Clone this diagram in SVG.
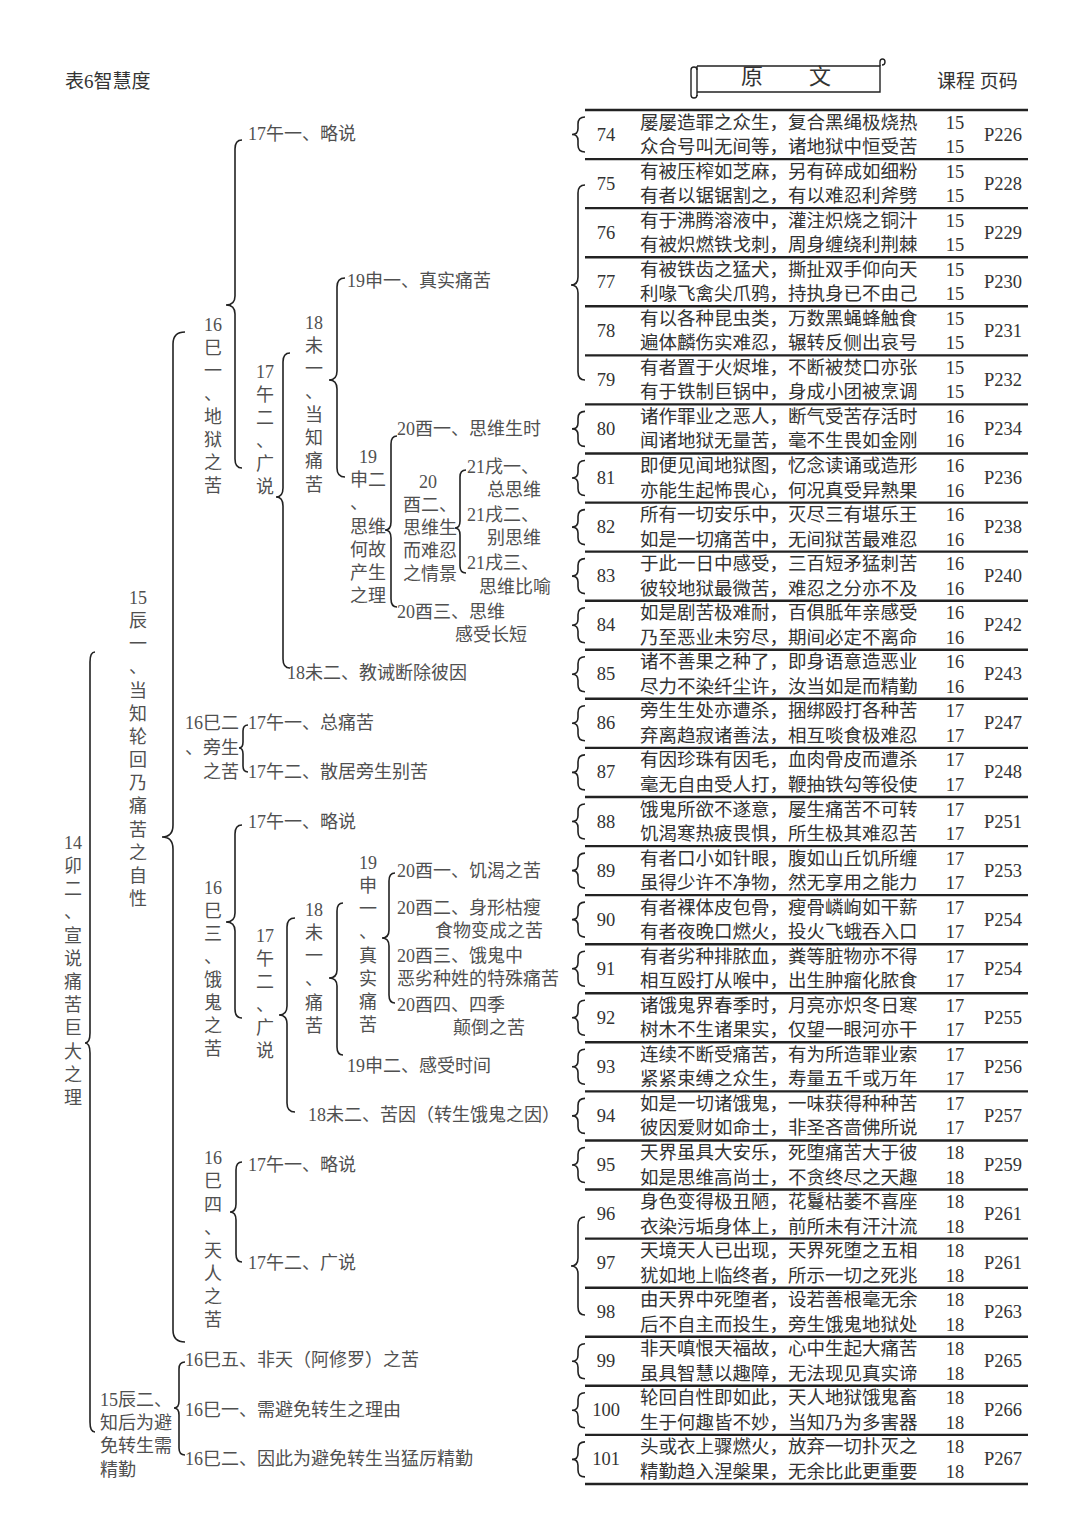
<svg xmlns="http://www.w3.org/2000/svg" xmlns:xlink="http://www.w3.org/1999/xlink" width="1080" height="1536" viewBox="0 0 1080 1536">
<style>
text{font-family:"Liberation Serif","Noto Sans CJK SC",serif;dominant-baseline:central}
.t{font-size:18px;fill:#505050}
.tv{font-size:18px;fill:#505050;text-anchor:middle}
.r{font-size:18.5px;fill:#333}
.rc{font-size:18.5px;fill:#333;text-anchor:middle}
.h{font-size:19px;fill:#333}
.br{fill:none;stroke:#222;stroke-width:1.6}
.rule{stroke:#222;stroke-width:2.4}
</style>
<defs>
<path id="sb" d="M13 0 Q6 0 6 7 L6 11.5 Q6 17.5 0 17.5 Q6 17.5 6 23.5 L6 28 Q6 35 13 35" fill="none" stroke="#222" stroke-width="1.6"/>
</defs>
<rect width="1080" height="1536" fill="#fff"/>

<g id="header">
<text class="h" x="65" y="81">表6智慧度</text>
<g id="scroll" fill="none" stroke="#222" stroke-width="1.4">
<path d="M697 66 L880 66 L880 92 L697 92"/>
<path d="M697 66 L697 96"/>
<path d="M691 70 Q691 67 694 67 Q697 67 697 70 M691 70 L691 95 Q691 98 694 98 Q697 98 697 95"/>
<path d="M880 66 L880 62 Q880 59 882.5 59 Q885 59 885 62 Q885 65 882 65"/>
</g>
<text x="752" y="76" font-size="22" fill="#333" text-anchor="middle">原</text>
<text x="820" y="76" font-size="22" fill="#333" text-anchor="middle">文</text>
<text class="h" x="937" y="81">课程 页码</text>
</g>

<g id="connectors">
<path class="br" d="M95 652 Q90 652 90 662 L90 1033 Q90 1043 85 1043 Q90 1043 90 1053 L90 1422 Q90 1432 95 1432"/>
<path class="br" d="M185 332 Q173 332 173 344 L173 825 Q173 837 162 837 Q173 837 173 849 L173 1330 Q173 1342 185 1342"/>
<path class="br" d="M242 140 Q235 140 235 149 L235 296 Q235 305 226 305 Q235 305 235 314 L235 459 Q235 468 242 468"/>
<path class="br" d="M290 353 Q283 353 283 362 L283 488 Q283 497 276 497 Q283 497 283 506 L283 659 Q283 668 290 668"/>
<path class="br" d="M345 278 Q337 278 337 287 L337 371 Q337 380 329 380 Q337 380 337 389 L337 468 Q337 477 345 477"/>
<path class="br" d="M397 436 Q391 436 391 444 L391 522 Q391 530 385 530 Q391 530 391 538 L391 599 Q391 607 397 607"/>
<path class="br" d="M466 470 Q460 470 460 477 L460 521 Q460 528 455 528 Q460 528 460 535 L460 566 Q460 573 466 573"/>
<path class="br" d="M248 725 Q243 725 243 731 L243 742 Q243 748 239 748 Q243 748 243 754 L243 766 Q243 772 248 772"/>
<path class="br" d="M242 825 Q235 825 235 834 L235 913 Q235 922 226 922 Q235 922 235 931 L235 1009 Q235 1018 242 1018"/>
<path class="br" d="M295 918 Q287 918 287 927 L287 1006 Q287 1015 279 1015 Q287 1015 287 1024 L287 1103 Q287 1112 295 1112"/>
<path class="br" d="M343 903 Q337 903 337 911 L337 970 Q337 978 329 978 Q337 978 337 986 L337 1047 Q337 1055 343 1055"/>
<path class="br" d="M395 873 Q389 873 389 881 L389 930 Q389 938 382 938 Q389 938 389 946 L389 995 Q389 1003 395 1003"/>
<path class="br" d="M242 1162 Q236 1162 236 1170 L236 1204 Q236 1212 230 1212 Q236 1212 236 1220 L236 1254 Q236 1262 242 1262"/>
<path class="br" d="M185 1362 Q179 1362 179 1369 L179 1401 Q179 1408 174 1408 Q179 1408 179 1415 L179 1448 Q179 1455 185 1455"/>
<path class="br" d="M585 185 Q578 185 578 193 L578 277 Q578 285 571 285 Q578 285 578 293 L578 372 Q578 380 585 380"/>
<path class="br" d="M585 1217 Q578 1217 578 1225 L578 1258 Q578 1266 571 1266 Q578 1266 578 1274 L578 1307 Q578 1315 585 1315"/>
<use xlink:href="#sb" x="572" y="117"/>
<use xlink:href="#sb" x="572" y="411.4"/>
<use xlink:href="#sb" x="572" y="460.5"/>
<use xlink:href="#sb" x="572" y="509.6"/>
<use xlink:href="#sb" x="572" y="558.6"/>
<use xlink:href="#sb" x="572" y="607.7"/>
<use xlink:href="#sb" x="572" y="656.8"/>
<use xlink:href="#sb" x="572" y="705.8"/>
<use xlink:href="#sb" x="572" y="754.9"/>
<use xlink:href="#sb" x="572" y="804"/>
<use xlink:href="#sb" x="572" y="853.1"/>
<use xlink:href="#sb" x="572" y="902.1"/>
<use xlink:href="#sb" x="572" y="951.2"/>
<use xlink:href="#sb" x="572" y="1000.3"/>
<use xlink:href="#sb" x="572" y="1049.3"/>
<use xlink:href="#sb" x="572" y="1098.4"/>
<use xlink:href="#sb" x="572" y="1147.5"/>
<use xlink:href="#sb" x="572" y="1343.8"/>
<use xlink:href="#sb" x="572" y="1392.8"/>
<use xlink:href="#sb" x="572" y="1441.9"/>
</g>

<g id="rules">
<line class="rule" x1="585" y1="110" x2="1028" y2="110"/>
<line class="rule" x1="585" y1="159.1" x2="1028" y2="159.1"/>
<line class="rule" x1="585" y1="208.1" x2="1028" y2="208.1"/>
<line class="rule" x1="585" y1="257.2" x2="1028" y2="257.2"/>
<line class="rule" x1="585" y1="306.3" x2="1028" y2="306.3"/>
<line class="rule" x1="585" y1="355.4" x2="1028" y2="355.4"/>
<line class="rule" x1="585" y1="404.4" x2="1028" y2="404.4"/>
<line class="rule" x1="585" y1="453.5" x2="1028" y2="453.5"/>
<line class="rule" x1="585" y1="502.6" x2="1028" y2="502.6"/>
<line class="rule" x1="585" y1="551.6" x2="1028" y2="551.6"/>
<line class="rule" x1="585" y1="600.7" x2="1028" y2="600.7"/>
<line class="rule" x1="585" y1="649.8" x2="1028" y2="649.8"/>
<line class="rule" x1="585" y1="698.8" x2="1028" y2="698.8"/>
<line class="rule" x1="585" y1="747.9" x2="1028" y2="747.9"/>
<line class="rule" x1="585" y1="797" x2="1028" y2="797"/>
<line class="rule" x1="585" y1="846.1" x2="1028" y2="846.1"/>
<line class="rule" x1="585" y1="895.1" x2="1028" y2="895.1"/>
<line class="rule" x1="585" y1="944.2" x2="1028" y2="944.2"/>
<line class="rule" x1="585" y1="993.3" x2="1028" y2="993.3"/>
<line class="rule" x1="585" y1="1042.3" x2="1028" y2="1042.3"/>
<line class="rule" x1="585" y1="1091.4" x2="1028" y2="1091.4"/>
<line class="rule" x1="585" y1="1140.5" x2="1028" y2="1140.5"/>
<line class="rule" x1="585" y1="1189.5" x2="1028" y2="1189.5"/>
<line class="rule" x1="585" y1="1238.6" x2="1028" y2="1238.6"/>
<line class="rule" x1="585" y1="1287.7" x2="1028" y2="1287.7"/>
<line class="rule" x1="585" y1="1336.8" x2="1028" y2="1336.8"/>
<line class="rule" x1="585" y1="1385.8" x2="1028" y2="1385.8"/>
<line class="rule" x1="585" y1="1434.9" x2="1028" y2="1434.9"/>
<line class="rule" x1="585" y1="1484" x2="1028" y2="1484"/>
</g>

<g id="tree">
<g id="n14"><text class="tv" x="73"><tspan x="73" y="843">14</tspan><tspan x="73" y="866">卯</tspan><tspan x="73" y="889">二</tspan><tspan x="73" y="912">、</tspan><tspan x="73" y="936">宣</tspan><tspan x="73" y="959">说</tspan><tspan x="73" y="982">痛</tspan><tspan x="73" y="1005">苦</tspan><tspan x="73" y="1028">巨</tspan><tspan x="73" y="1052">大</tspan><tspan x="73" y="1075">之</tspan><tspan x="73" y="1098">理</tspan></text></g>
<g id="n15a"><text class="tv" x="138"><tspan x="138" y="598">15</tspan><tspan x="138" y="621">辰</tspan><tspan x="138" y="644">一</tspan><tspan x="138" y="667">、</tspan><tspan x="138" y="691">当</tspan><tspan x="138" y="714">知</tspan><tspan x="138" y="737">轮</tspan><tspan x="138" y="760">回</tspan><tspan x="138" y="783">乃</tspan><tspan x="138" y="806">痛</tspan><tspan x="138" y="830">苦</tspan><tspan x="138" y="853">之</tspan><tspan x="138" y="876">自</tspan><tspan x="138" y="899">性</tspan></text></g>
<g id="n15b"><text class="t"><tspan x="100" y="1400">15辰二、</tspan><tspan x="100" y="1423">知后为避</tspan><tspan x="100" y="1446">免转生需</tspan><tspan x="100" y="1470">精勤</tspan></text></g>

<g id="n16a"><text class="tv" x="213"><tspan x="213" y="325">16</tspan><tspan x="213" y="348">巳</tspan><tspan x="213" y="371">一</tspan><tspan x="213" y="394">、</tspan><tspan x="213" y="417">地</tspan><tspan x="213" y="440">狱</tspan><tspan x="213" y="463">之</tspan><tspan x="213" y="486">苦</tspan></text></g>
<g id="n17a1"><text class="t" x="248" y="134">17午一、略说</text></g>
<g id="n17a2"><text class="tv" x="265"><tspan x="265" y="372">17</tspan><tspan x="265" y="395">午</tspan><tspan x="265" y="418">二</tspan><tspan x="265" y="441">、</tspan><tspan x="265" y="464">广</tspan><tspan x="265" y="487">说</tspan></text></g>
<g id="n18a1"><text class="tv" x="314"><tspan x="314" y="323">18</tspan><tspan x="314" y="346">未</tspan><tspan x="314" y="369">一</tspan><tspan x="314" y="392">、</tspan><tspan x="314" y="415">当</tspan><tspan x="314" y="438">知</tspan><tspan x="314" y="461">痛</tspan><tspan x="314" y="485">苦</tspan></text></g>
<g id="n19a1"><text class="t" x="347" y="281">19申一、真实痛苦</text></g>
<g id="n19a2"><text class="t"><tspan x="368" y="457" text-anchor="middle">19</tspan><tspan x="350" y="480">申二</tspan><tspan x="350" y="503">、</tspan><tspan x="350" y="527">思维</tspan><tspan x="350" y="550">何故</tspan><tspan x="350" y="573">产生</tspan><tspan x="350" y="596">之理</tspan></text></g>
<g id="n20a1"><text class="t" x="397" y="429">20酉一、思维生时</text></g>
<g id="n20a2"><text class="t"><tspan x="428" y="482" text-anchor="middle">20</tspan><tspan x="403" y="505">酉二、</tspan><tspan x="403" y="528">思维生</tspan><tspan x="403" y="551">而难忍</tspan><tspan x="403" y="574">之情景</tspan></text></g>
<g id="n21a1"><text class="t"><tspan x="467" y="467">21戌一、</tspan><tspan x="487" y="490">总思维</tspan></text></g>
<g id="n21a2"><text class="t"><tspan x="467" y="515">21戌二、</tspan><tspan x="487" y="538">别思维</tspan></text></g>
<g id="n21a3"><text class="t"><tspan x="467" y="563">21戌三、</tspan><tspan x="479" y="587">思维比喻</tspan></text></g>
<g id="n20a3"><text class="t"><tspan x="397" y="612">20酉三、思维</tspan><tspan x="455" y="635">感受长短</tspan></text></g>
<g id="n18a2"><text class="t" x="287" y="673">18未二、教诫断除彼因</text></g>

<g id="n16b"><text class="t"><tspan x="185" y="723">16巳二</tspan><tspan x="185" y="748">、旁生</tspan><tspan x="203" y="772">之苦</tspan></text></g>
<g id="n17b1"><text class="t" x="248" y="723">17午一、总痛苦</text></g>
<g id="n17b2"><text class="t" x="248" y="772">17午二、散居旁生别苦</text></g>

<g id="n16c"><text class="tv" x="213"><tspan x="213" y="888">16</tspan><tspan x="213" y="911">巳</tspan><tspan x="213" y="934">三</tspan><tspan x="213" y="957">、</tspan><tspan x="213" y="980">饿</tspan><tspan x="213" y="1003">鬼</tspan><tspan x="213" y="1026">之</tspan><tspan x="213" y="1049">苦</tspan></text></g>
<g id="n17c1"><text class="t" x="248" y="822">17午一、略说</text></g>
<g id="n17c2"><text class="tv" x="265"><tspan x="265" y="936">17</tspan><tspan x="265" y="959">午</tspan><tspan x="265" y="982">二</tspan><tspan x="265" y="1005">、</tspan><tspan x="265" y="1028">广</tspan><tspan x="265" y="1051">说</tspan></text></g>
<g id="n18c1"><text class="tv" x="314"><tspan x="314" y="910">18</tspan><tspan x="314" y="933">未</tspan><tspan x="314" y="956">一</tspan><tspan x="314" y="979">、</tspan><tspan x="314" y="1003">痛</tspan><tspan x="314" y="1026">苦</tspan></text></g>
<g id="n19c1"><text class="tv" x="368"><tspan x="368" y="863">19</tspan><tspan x="368" y="886">申</tspan><tspan x="368" y="909">一</tspan><tspan x="368" y="932">、</tspan><tspan x="368" y="956">真</tspan><tspan x="368" y="979">实</tspan><tspan x="368" y="1002">痛</tspan><tspan x="368" y="1025">苦</tspan></text></g>
<g id="n20c1"><text class="t" x="397" y="871">20酉一、饥渴之苦</text></g>
<g id="n20c2"><text class="t"><tspan x="397" y="908">20酉二、身形枯瘦</tspan><tspan x="435" y="931">食物变成之苦</tspan></text></g>
<g id="n20c3"><text class="t"><tspan x="397" y="956">20酉三、饿鬼中</tspan><tspan x="397" y="979">恶劣种姓的特殊痛苦</tspan></text></g>
<g id="n20c4"><text class="t"><tspan x="397" y="1005">20酉四、四季</tspan><tspan x="453" y="1028">颠倒之苦</tspan></text></g>
<g id="n19c2"><text class="t" x="347" y="1066">19申二、感受时间</text></g>
<g id="n18c2"><text class="t" x="308" y="1115">18未二、苦因（转生饿鬼之因）</text></g>

<g id="n16d"><text class="tv" x="213"><tspan x="213" y="1158">16</tspan><tspan x="213" y="1181">巳</tspan><tspan x="213" y="1205">四</tspan><tspan x="213" y="1228">、</tspan><tspan x="213" y="1251">天</tspan><tspan x="213" y="1274">人</tspan><tspan x="213" y="1297">之</tspan><tspan x="213" y="1320">苦</tspan></text></g>
<g id="n17d1"><text class="t" x="248" y="1165">17午一、略说</text></g>
<g id="n17d2"><text class="t" x="248" y="1263">17午二、广说</text></g>
<g id="n16e"><text class="t" x="185" y="1360">16巳五、非天（阿修罗）之苦</text></g>
<g id="n16f"><text class="t" x="185" y="1410">16巳一、需避免转生之理由</text></g>
<g id="n16g"><text class="t" x="185" y="1459">16巳二、因此为避免转生当猛厉精勤</text></g>
</g>

<g id="rows">
<g id="r74"><text class="rc" x="606" y="134.5">74</text><text class="r" x="640" y="122.5">屡屡造罪之众生，复合黑绳极烧热</text><text class="r" x="640" y="147">众合号叫无间等，诸地狱中恒受苦</text><text class="rc" x="955" y="122.5">15</text><text class="rc" x="955" y="147">15</text><text class="rc" x="1003" y="134.5">P226</text></g>
<g id="r75"><text class="rc" x="606" y="183.6">75</text><text class="r" x="640" y="171.6">有被压榨如芝麻，另有碎成如细粉</text><text class="r" x="640" y="196.1">有者以锯锯割之，有以难忍利斧劈</text><text class="rc" x="955" y="171.6">15</text><text class="rc" x="955" y="196.1">15</text><text class="rc" x="1003" y="183.6">P228</text></g>
<g id="r76"><text class="rc" x="606" y="232.6">76</text><text class="r" x="640" y="220.6">有于沸腾溶液中，灌注炽烧之铜汁</text><text class="r" x="640" y="245.1">有被炽燃铁戈刺，周身缠绕利荆棘</text><text class="rc" x="955" y="220.6">15</text><text class="rc" x="955" y="245.1">15</text><text class="rc" x="1003" y="232.6">P229</text></g>
<g id="r77"><text class="rc" x="606" y="281.7">77</text><text class="r" x="640" y="269.7">有被铁齿之猛犬，撕扯双手仰向天</text><text class="r" x="640" y="294.2">利喙飞禽尖爪鸦，持执身已不由己</text><text class="rc" x="955" y="269.7">15</text><text class="rc" x="955" y="294.2">15</text><text class="rc" x="1003" y="281.7">P230</text></g>
<g id="r78"><text class="rc" x="606" y="330.8">78</text><text class="r" x="640" y="318.8">有以各种昆虫类，万数黑蝇蜂触食</text><text class="r" x="640" y="343.3">遍体麟伤实难忍，辗转反侧出哀号</text><text class="rc" x="955" y="318.8">15</text><text class="rc" x="955" y="343.3">15</text><text class="rc" x="1003" y="330.8">P231</text></g>
<g id="r79"><text class="rc" x="606" y="379.9">79</text><text class="r" x="640" y="367.9">有者置于火烬堆，不断被焚口亦张</text><text class="r" x="640" y="392.4">有于铁制巨锅中，身成小团被烹调</text><text class="rc" x="955" y="367.9">15</text><text class="rc" x="955" y="392.4">15</text><text class="rc" x="1003" y="379.9">P232</text></g>
<g id="r80"><text class="rc" x="606" y="428.9">80</text><text class="r" x="640" y="416.9">诸作罪业之恶人，断气受苦存活时</text><text class="r" x="640" y="441.4">闻诸地狱无量苦，毫不生畏如金刚</text><text class="rc" x="955" y="416.9">16</text><text class="rc" x="955" y="441.4">16</text><text class="rc" x="1003" y="428.9">P234</text></g>
<g id="r81"><text class="rc" x="606" y="478">81</text><text class="r" x="640" y="466">即便见闻地狱图，忆念读诵或造形</text><text class="r" x="640" y="490.5">亦能生起怖畏心，何况真受异熟果</text><text class="rc" x="955" y="466">16</text><text class="rc" x="955" y="490.5">16</text><text class="rc" x="1003" y="478">P236</text></g>
<g id="r82"><text class="rc" x="606" y="527.1">82</text><text class="r" x="640" y="515.1">所有一切安乐中，灭尽三有堪乐王</text><text class="r" x="640" y="539.6">如是一切痛苦中，无间狱苦最难忍</text><text class="rc" x="955" y="515.1">16</text><text class="rc" x="955" y="539.6">16</text><text class="rc" x="1003" y="527.1">P238</text></g>
<g id="r83"><text class="rc" x="606" y="576.1">83</text><text class="r" x="640" y="564.1">于此一日中感受，三百短矛猛刺苦</text><text class="r" x="640" y="588.6">彼较地狱最微苦，难忍之分亦不及</text><text class="rc" x="955" y="564.1">16</text><text class="rc" x="955" y="588.6">16</text><text class="rc" x="1003" y="576.1">P240</text></g>
<g id="r84"><text class="rc" x="606" y="625.2">84</text><text class="r" x="640" y="613.2">如是剧苦极难耐，百俱胝年亲感受</text><text class="r" x="640" y="637.7">乃至恶业未穷尽，期间必定不离命</text><text class="rc" x="955" y="613.2">16</text><text class="rc" x="955" y="637.7">16</text><text class="rc" x="1003" y="625.2">P242</text></g>
<g id="r85"><text class="rc" x="606" y="674.3">85</text><text class="r" x="640" y="662.3">诸不善果之种了，即身语意造恶业</text><text class="r" x="640" y="686.8">尽力不染纤尘许，汝当如是而精勤</text><text class="rc" x="955" y="662.3">16</text><text class="rc" x="955" y="686.8">16</text><text class="rc" x="1003" y="674.3">P243</text></g>
<g id="r86"><text class="rc" x="606" y="723.3">86</text><text class="r" x="640" y="711.3">旁生生处亦遭杀，捆绑殴打各种苦</text><text class="r" x="640" y="735.8">弃离趋寂诸善法，相互啖食极难忍</text><text class="rc" x="955" y="711.3">17</text><text class="rc" x="955" y="735.8">17</text><text class="rc" x="1003" y="723.3">P247</text></g>
<g id="r87"><text class="rc" x="606" y="772.4">87</text><text class="r" x="640" y="760.4">有因珍珠有因毛，血肉骨皮而遭杀</text><text class="r" x="640" y="784.9">毫无自由受人打，鞭抽铁勾等役使</text><text class="rc" x="955" y="760.4">17</text><text class="rc" x="955" y="784.9">17</text><text class="rc" x="1003" y="772.4">P248</text></g>
<g id="r88"><text class="rc" x="606" y="821.5">88</text><text class="r" x="640" y="809.5">饿鬼所欲不遂意，屡生痛苦不可转</text><text class="r" x="640" y="834">饥渴寒热疲畏惧，所生极其难忍苦</text><text class="rc" x="955" y="809.5">17</text><text class="rc" x="955" y="834">17</text><text class="rc" x="1003" y="821.5">P251</text></g>
<g id="r89"><text class="rc" x="606" y="870.6">89</text><text class="r" x="640" y="858.6">有者口小如针眼，腹如山丘饥所缠</text><text class="r" x="640" y="883.1">虽得少许不净物，然无享用之能力</text><text class="rc" x="955" y="858.6">17</text><text class="rc" x="955" y="883.1">17</text><text class="rc" x="1003" y="870.6">P253</text></g>
<g id="r90"><text class="rc" x="606" y="919.6">90</text><text class="r" x="640" y="907.6">有者裸体皮包骨，瘦骨嶙峋如干薪</text><text class="r" x="640" y="932.1">有者夜晚口燃火，投火飞蛾吞入口</text><text class="rc" x="955" y="907.6">17</text><text class="rc" x="955" y="932.1">17</text><text class="rc" x="1003" y="919.6">P254</text></g>
<g id="r91"><text class="rc" x="606" y="968.7">91</text><text class="r" x="640" y="956.7">有者劣种排脓血，粪等脏物亦不得</text><text class="r" x="640" y="981.2">相互殴打从喉中，出生肿瘤化脓食</text><text class="rc" x="955" y="956.7">17</text><text class="rc" x="955" y="981.2">17</text><text class="rc" x="1003" y="968.7">P254</text></g>
<g id="r92"><text class="rc" x="606" y="1017.8">92</text><text class="r" x="640" y="1005.8">诸饿鬼界春季时，月亮亦炽冬日寒</text><text class="r" x="640" y="1030.3">树木不生诸果实，仅望一眼河亦干</text><text class="rc" x="955" y="1005.8">17</text><text class="rc" x="955" y="1030.3">17</text><text class="rc" x="1003" y="1017.8">P255</text></g>
<g id="r93"><text class="rc" x="606" y="1066.8">93</text><text class="r" x="640" y="1054.8">连续不断受痛苦，有为所造罪业索</text><text class="r" x="640" y="1079.3">紧紧束缚之众生，寿量五千或万年</text><text class="rc" x="955" y="1054.8">17</text><text class="rc" x="955" y="1079.3">17</text><text class="rc" x="1003" y="1066.8">P256</text></g>
<g id="r94"><text class="rc" x="606" y="1115.9">94</text><text class="r" x="640" y="1103.9">如是一切诸饿鬼，一味获得种种苦</text><text class="r" x="640" y="1128.4">彼因爱财如命士，非圣吝啬佛所说</text><text class="rc" x="955" y="1103.9">17</text><text class="rc" x="955" y="1128.4">17</text><text class="rc" x="1003" y="1115.9">P257</text></g>
<g id="r95"><text class="rc" x="606" y="1165">95</text><text class="r" x="640" y="1153">天界虽具大安乐，死堕痛苦大于彼</text><text class="r" x="640" y="1177.5">如是思维高尚士，不贪终尽之天趣</text><text class="rc" x="955" y="1153">18</text><text class="rc" x="955" y="1177.5">18</text><text class="rc" x="1003" y="1165">P259</text></g>
<g id="r96"><text class="rc" x="606" y="1214">96</text><text class="r" x="640" y="1202">身色变得极丑陋，花鬘枯萎不喜座</text><text class="r" x="640" y="1226.5">衣染污垢身体上，前所未有汗汁流</text><text class="rc" x="955" y="1202">18</text><text class="rc" x="955" y="1226.5">18</text><text class="rc" x="1003" y="1214">P261</text></g>
<g id="r97"><text class="rc" x="606" y="1263.1">97</text><text class="r" x="640" y="1251.1">天境天人已出现，天界死堕之五相</text><text class="r" x="640" y="1275.6">犹如地上临终者，所示一切之死兆</text><text class="rc" x="955" y="1251.1">18</text><text class="rc" x="955" y="1275.6">18</text><text class="rc" x="1003" y="1263.1">P261</text></g>
<g id="r98"><text class="rc" x="606" y="1312.2">98</text><text class="r" x="640" y="1300.2">由天界中死堕者，设若善根毫无余</text><text class="r" x="640" y="1324.7">后不自主而投生，旁生饿鬼地狱处</text><text class="rc" x="955" y="1300.2">18</text><text class="rc" x="955" y="1324.7">18</text><text class="rc" x="1003" y="1312.2">P263</text></g>
<g id="r99"><text class="rc" x="606" y="1361.3">99</text><text class="r" x="640" y="1349.3">非天嗔恨天福故，心中生起大痛苦</text><text class="r" x="640" y="1373.8">虽具智慧以趣障，无法现见真实谛</text><text class="rc" x="955" y="1349.3">18</text><text class="rc" x="955" y="1373.8">18</text><text class="rc" x="1003" y="1361.3">P265</text></g>
<g id="r100"><text class="rc" x="606" y="1410.3">100</text><text class="r" x="640" y="1398.3">轮回自性即如此，天人地狱饿鬼畜</text><text class="r" x="640" y="1422.8">生于何趣皆不妙，当知乃为多害器</text><text class="rc" x="955" y="1398.3">18</text><text class="rc" x="955" y="1422.8">18</text><text class="rc" x="1003" y="1410.3">P266</text></g>
<g id="r101"><text class="rc" x="606" y="1459.4">101</text><text class="r" x="640" y="1447.4">头或衣上骤燃火，放弃一切扑灭之</text><text class="r" x="640" y="1471.9">精勤趋入涅槃果，无余比此更重要</text><text class="rc" x="955" y="1447.4">18</text><text class="rc" x="955" y="1471.9">18</text><text class="rc" x="1003" y="1459.4">P267</text></g>
</g>
</svg>
